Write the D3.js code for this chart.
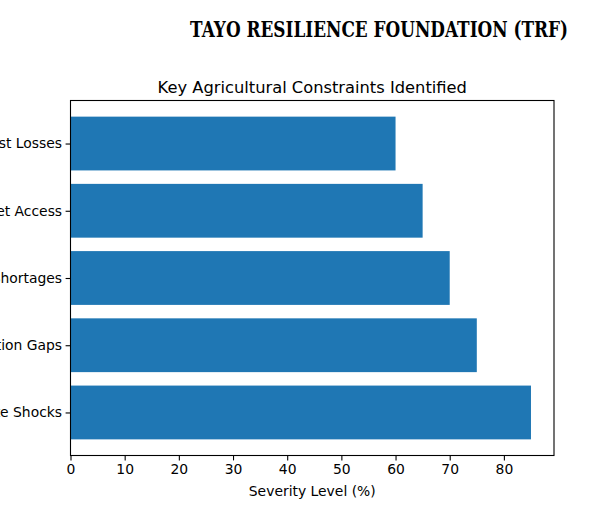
<!DOCTYPE html>
<html><head><meta charset="utf-8">
<script src="https://cdn.jsdelivr.net/npm/d3@7"></script>
<style>body{margin:0;background:#fff}</style>
</head><body>
<svg id="c" width="600" height="530"></svg>
<script>
const categories = ["Climate Shocks","Irrigation Gaps","Input Shortages","Market Access","Post-Harvest Losses"];
const values = [85, 75, 70, 65, 60];
const xTicks = [0,10,20,30,40,50,60,70,80];

const svg = d3.select("#c");
const L = 70.5, R = 554, T = 100.5, B = 455.5;
const x = d3.scaleLinear().domain([0, 85*1.05]).range([L, R]);
// matplotlib-like categorical y: index 0 at bottom
const y = d3.scaleLinear().domain([-0.4-0.24, categories.length-1+0.4+0.24]).range([B, T]);
const barH = y(0) - y(0.8);

svg.append("rect").attr("x",0).attr("y",0).attr("width",600).attr("height",530).attr("fill","#fff");

svg.selectAll("rect.bar").data(values).join("rect").attr("class","bar")
  .attr("x", x(0)).attr("width", d => x(d) - x(0))
  .attr("y", (d,i) => y(i+0.4)).attr("height", barH)
  .attr("fill", "#1f77b4");

const font = "DejaVu Sans, sans-serif";
// x axis
const xa = svg.append("g").attr("transform", `translate(0,${B})`)
  .call(d3.axisBottom(x).tickValues(xTicks).tickSize(4.9).tickPadding(3.5).tickSizeOuter(0));
xa.select(".domain").remove();
xa.selectAll("text").attr("font-family", font).attr("font-size", "13.9px").attr("fill","#000");
xa.selectAll("line").attr("stroke","#000").attr("stroke-width",1.1);

// y axis
const ya = svg.append("g").attr("transform", `translate(${L},0)`)
  .call(d3.axisLeft(y).tickValues(d3.range(categories.length)).tickFormat(i => categories[i]).tickSize(4.9).tickPadding(3.5).tickSizeOuter(0));
ya.select(".domain").remove();
ya.selectAll("text").attr("font-family", font).attr("font-size", "13.9px").attr("fill","#000");
ya.selectAll("line").attr("stroke","#000").attr("stroke-width",1.1);

// spines
svg.append("rect").attr("x",L).attr("y",T).attr("width",R-L).attr("height",B-T)
  .attr("fill","none").attr("stroke","#000").attr("stroke-width",1.1);

svg.append("text").attr("x",(L+R)/2).attr("y",B+40).attr("text-anchor","middle")
  .attr("font-family",font).attr("font-size","13.9px").text("Severity Level (%)");

svg.append("text").attr("x",(L+R)/2).attr("y",T-7.5).attr("text-anchor","middle")
  .attr("font-family",font).attr("font-size","16.3px").text("Key Agricultural Constraints Identified");

svg.append("text").attr("x",190).attr("y",37)
  .attr("font-family","DejaVu Serif, serif").attr("font-weight","bold").attr("font-size","22px")
  .attr("textLength",378).attr("lengthAdjust","spacingAndGlyphs")
  .text("TAYO RESILIENCE FOUNDATION (TRF)");
</script>
</body></html>
